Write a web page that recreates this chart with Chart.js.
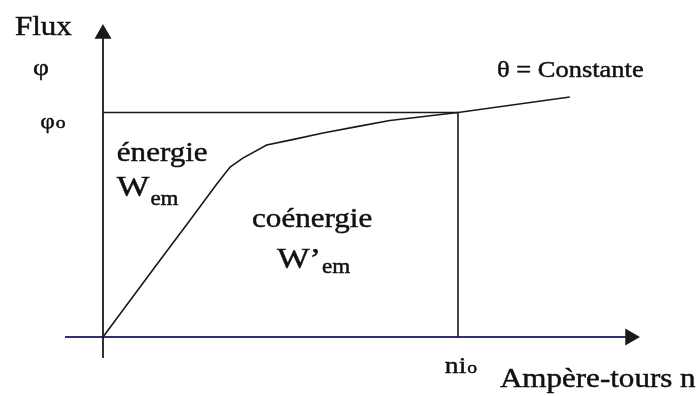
<!DOCTYPE html>
<html>
<head>
<meta charset="utf-8">
<script src="https://cdn.jsdelivr.net/npm/chart.js@4"></script>
<style>
	body { margin: 0; background: #fff; }
	#wrap { width: 700px; height: 396px; position: relative; }
</style>
</head>
<body>
<div id="wrap"><canvas id="flux-graph"></canvas></div>
<script>
// magnetisation curve, units: ni / ni_o and phi / phi_o
const curveNi = [0, 0.151, 0.245, 0.32, 0.358, 0.394, 0.461, 0.527, 0.62, 0.715, 0.808, 1.0, 1.315];
const curvePhi = [0, 0.322, 0.52, 0.68, 0.757, 0.797, 0.855, 0.877, 0.909, 0.937, 0.964, 1.0, 1.069];
const niO = 1;
const phiO = 1;
// axis extents (start, arrow)
const axisNi = [-0.107, 1.485];
const axisPhi = [-0.094, 1.35];
// texts
const tickLabels = { phi: "φ", phiO: "φ", ni: "ni" };
const axisTitles = { y: "Flux", x: "Ampère-tours n" };
const curveLabel = "θ = Constante";

const TEXT_STRETCH = 1.15;
const FONT = "'Liberation Serif', 'Times New Roman', serif";

const toPoints = (xs, ys) => xs.map((x, i) => ({ x: x, y: ys[i] }));

const lineSet = (points, color, width, extra) => Object.assign({
	data: points,
	showLine: true,
	borderColor: color,
	backgroundColor: color,
	borderWidth: width,
	pointRadius: 0,
	pointHoverRadius: 0,
	tension: 0,
}, extra || {});

//------------text helpers----------
const drawText = (ctx, text, x, y, size) => {
	ctx.save();
	ctx.font = size + "px " + FONT;
	ctx.translate(x, y);
	ctx.scale(TEXT_STRETCH, 1);
	ctx.fillText(text, 0, 0);
	ctx.strokeText(text, 0, 0); // scanned print looks heavier
	const w = ctx.measureText(text).width * TEXT_STRETCH;
	ctx.restore();
	return w;
};

// label anchors in data units (left, baseline)
const labels = [
	{ at: [-0.248, 1.345], text: axisTitles.y, size: 27 },
	{ at: [-0.197, 1.167], text: tickLabels.phi, size: 24 },
	{ at: [-0.177, 0.931], text: tickLabels.phiO, size: 22, sub: "o", subSize: 17, drop: 0 },
	{ at: [0.039, 0.784], text: "énergie", size: 27 },
	{ at: [0.039, 0.626], text: "W", size: 30, sub: "em", subSize: 20, drop: 9 },
	{ at: [0.42, 0.49], text: "coénergie", size: 27 },
	{ at: [0.49, 0.307], text: "W’", size: 30, sub: "em", subSize: 20, drop: 5 },
	{ at: [1.11, 1.158], text: curveLabel, size: 23 },
	{ at: [0.963, -0.16], text: tickLabels.ni, size: 24, sub: "o", subSize: 17, drop: 0 },
	{ at: [1.118, -0.223], text: axisTitles.x, size: 27 },
];

const textPlugin = {
	id: "texts",
	afterDatasetsDraw(chart) {
		const ctx = chart.ctx;
		const xs = chart.scales.x;
		const ys = chart.scales.y;
		ctx.save();
		ctx.fillStyle = "#111";
		ctx.strokeStyle = "#111";
		ctx.lineWidth = 0.45;
		ctx.textBaseline = "alphabetic";
		ctx.textAlign = "left";
		labels.forEach((l) => {
			const px = xs.getPixelForValue(l.at[0]);
			const py = ys.getPixelForValue(l.at[1]);
			const w = drawText(ctx, l.text, px, py, l.size);
			if (l.sub) drawText(ctx, l.sub, px + w + 1, py + l.drop, l.subSize);
		});
		ctx.restore();
	},
};
//---------------------------------

const config = {
	type: "scatter",
	data: {
		datasets: [
			lineSet(toPoints(curveNi, curvePhi), "#1a1a1a", 1.6),
			lineSet(toPoints([0, niO], [phiO, phiO]), "#1a1a1a", 1.6),
			lineSet(toPoints([niO, niO], [0, phiO]), "#1a1a1a", 1.6),
			lineSet(toPoints([0, 0], axisPhi), "#1a1a1a", 1.8, {
				pointRadius: [0, 8],
				pointStyle: "triangle",
				pointRotation: 0,
			}),
			lineSet(toPoints(axisNi, [0, 0]), "#2e3270", 1.8, {
				pointRadius: [0, 8],
				pointStyle: "triangle",
				pointRotation: 90,
				backgroundColor: "#1a1a1a",
				pointBorderColor: "#1a1a1a",
			}),
		],
	},
	options: {
		responsive: true,
		maintainAspectRatio: false,
		animation: false,
		layout: { padding: 0, autoPadding: false },
		scales: {
			x: { type: "linear", display: false, min: -0.2901, max: 1.6817 },
			y: { type: "linear", display: false, min: -0.2628, max: 1.5011 },
		},
		plugins: {
			legend: { display: false },
			tooltip: { enabled: false },
		},
		events: [],
	},
	plugins: [textPlugin],
};

const fluxGraph = new Chart(document.getElementById("flux-graph"), config);
</script>
</body>
</html>
